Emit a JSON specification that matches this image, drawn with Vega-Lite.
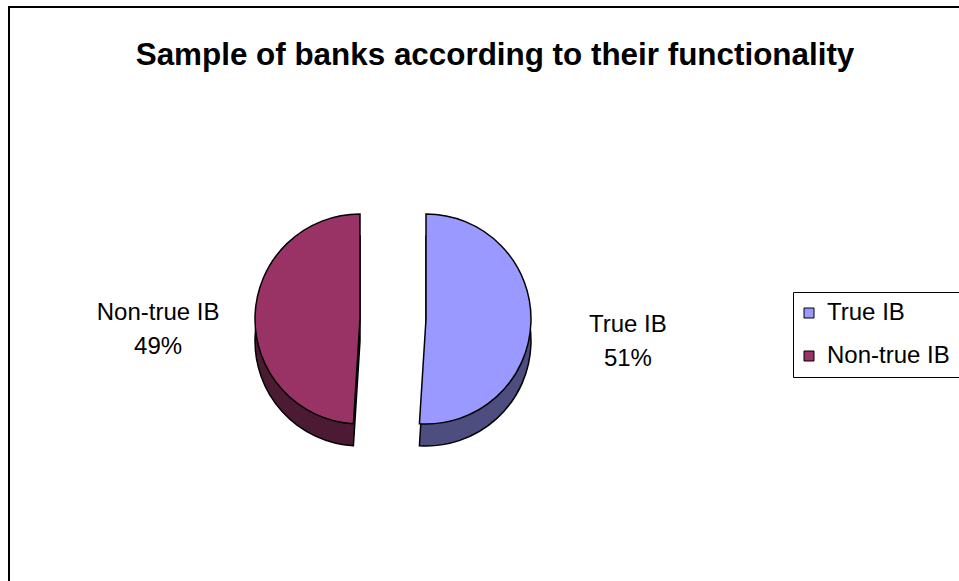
{
  "$schema": "https://vega.github.io/schema/vega-lite/v6.json",
  "width": 972,
  "height": 624,
  "autosize": {"type": "none"},
  "padding": {"left": 9, "top": 7, "right": 0, "bottom": 0},
  "background": "white",
  "config": {
    "view": {"stroke": "black", "strokeWidth": 2},
    "font": "Liberation Sans"
  },
  "title": {
    "text": "Sample of banks according to their functionality",
    "fontSize": 31.4,
    "font": "Liberation Sans",
    "fontWeight": "bold",
    "color": "black",
    "anchor": "middle",
    "offset": -64
  },
  "data": {
    "values": [
      {"category": "True IB", "value": 51, "label": ["True IB", "51%"]},
      {"category": "Non-true IB", "value": 49, "label": ["Non-true IB", "49%"]}
    ]
  },
  "encoding": {
    "theta": {"field": "value", "type": "quantitative", "stack": true},
    "order": {"field": "category", "sort": "descending"},
    "x": {
      "field": "category",
      "type": "nominal",
      "scale": {"type": "point", "padding": 0, "domain": ["Non-true IB", "True IB"], "range": [351, 417]},
      "axis": null
    }
  },
  "layer": [
    {
      "mark": {"type": "arc", "radius": 105, "yOffset": 22, "stroke": "black", "strokeWidth": 1.5},
      "encoding": {
        "color": {
          "field": "category",
          "type": "nominal",
          "scale": {"domain": ["True IB", "Non-true IB"], "range": ["#4D4D80", "#4D1A33"]},
          "legend": null
        }
      }
    },
    {
      "mark": {"type": "arc", "radius": 105, "stroke": "black", "strokeWidth": 1.5},
      "encoding": {
        "color": {
          "field": "category",
          "type": "nominal",
          "scale": {"domain": ["True IB", "Non-true IB"], "range": ["#9999FF", "#993366"]},
          "legend": {
            "title": null,
            "orient": "none",
            "legendX": 784,
            "legendY": 285,
            "strokeColor": "black",
            "fillColor": "white",
            "padding": 9,
            "symbolOffset": -5,
            "symbolType": "square",
            "symbolSize": 100,
            "symbolStrokeColor": "black",
            "symbolStrokeWidth": 1,
            "symbolOpacity": 1,
            "labelFontSize": 24,
            "labelFont": "Liberation Sans",
            "labelColor": "black",
            "labelOffset": 6,
            "rowPadding": 19
          }
        }
      }
    },
    {
      "mark": {"type": "text", "radius": 202, "fontSize": 24, "lineHeight": 34, "baseline": "middle", "align": "center", "color": "black"},
      "encoding": {
        "text": {"field": "label"},
        "detail": {"field": "category"}
      }
    }
  ],
  "resolve": {"scale": {"color": "independent"}}
}
